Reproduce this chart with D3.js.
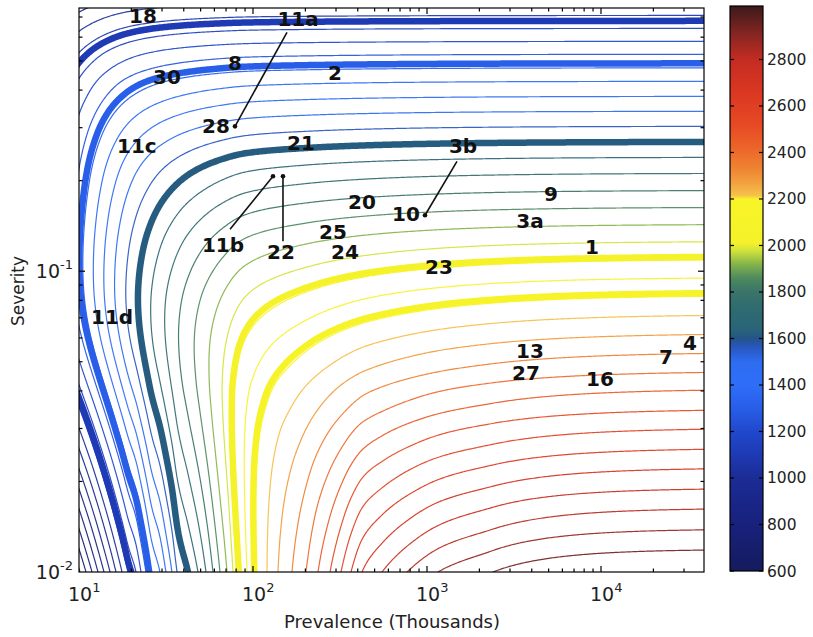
<!DOCTYPE html>
<html>
<head>
<meta charset="utf-8">
<script src="https://cdn.jsdelivr.net/npm/d3@7/dist/d3.min.js"></script>
<style>
  html, body { margin: 0; padding: 0; background: #ffffff; }
  svg text { font-family: "DejaVu Sans", Verdana, sans-serif; }
</style>
</head>
<body>
<svg id="chart" width="813" height="637"></svg>
<script>
// ---------------- data ----------------
// thin contour levels
const contourLevels = [600, 660, 720, 780, 840, 900, 960, 1020, 1080, 1140,
  1200, 1260, 1320, 1380, 1440, 1500, 1560, 1620, 1680, 1740,
  1800, 1860, 1920, 1980, 2040, 2100, 2160, 2220, 2280, 2340,
  2400, 2460, 2520, 2580, 2640, 2700, 2760, 2820, 2880, 2940];
// highlighted (thick) levels
const highlightLevels = [1105, 1300, 1620, 2030, 2150];

// prevalence (thousands) where each thin level meets severity = 0.01
const bottomEdgePrevalence = [10.13, 10.97, 11.88, 12.86, 13.92, 15.08, 16.32, 17.67, 19.12, 21.27,
  22.72, 24.27, 25.94, 29.2, 31.6, 34.2, 36.6, 42.3, 48.3, 53.7,
  58.9, 64.6, 70.9, 76.8, 84.2, 92.4, 104.0, 120.4, 139.2, 167.5,
  201.7, 236.4, 277.1, 320.4, 365.8, 423.0, 551.3, 767.6, 1157, 2394];

// severity reached by each level at very high prevalence
const edgeLevels = [1080, 1140, 1200, 1260, 1320, 1380, 1440, 1500, 1560, 1620,
  1680, 1740, 1800, 1860, 1920, 1980, 2040, 2100, 2160, 2220,
  2280, 2340, 2400, 2460, 2520, 2580, 2640, 2700, 2760, 2820, 2880, 2940];
const rightEdgeSeverity = [0.7085, 0.6415, 0.5810, 0.5262, 0.4744, 0.4279, 0.3814, 0.3403, 0.3033, 0.2693,
  0.2393, 0.2117, 0.1858, 0.1633, 0.1433, 0.1258, 0.1096, 0.0955, 0.0832, 0.0719,
  0.0622, 0.0538, 0.0465, 0.0406, 0.0348, 0.0301, 0.0258, 0.0222, 0.0190, 0.0163, 0.0139, 0.0119];

// level reached on the low-prevalence side at mid severity (S >= 0.07)
const midLegLevels = [1335, 1690, 2110, 2220, 2400, 2730, 3550];
const midLegPrevalence = [10, 21.5, 66.1, 89.1, 199.5, 1000, 50100];

// colour map
const colorValues = [600, 800, 1000, 1100, 1200, 1300, 1400, 1500, 1560, 1600,
  1640, 1720, 1800, 1860, 1920, 1980, 2015, 2200, 2215, 2270,
  2330, 2420, 2520, 2650, 2800, 2900, 3030];
const colorStops = ['#151b5e', '#18217c', '#1b2c95', '#1e3ab4', '#2048cc', '#285ee8', '#2f6ef8', '#2e6cf0', '#2858c0', '#24548a',
  '#2a6478', '#2e6a72', '#3a7468', '#4e8a5e', '#84b44a', '#d4e43a', '#f6f22a', '#f8f428', '#f6c24a', '#f2a040',
  '#ef8432', '#ec642a', '#e64a24', '#dc3822', '#c42c22', '#8a2622', '#3c1a1a'];
const colorbarTicks = [600, 800, 1000, 1200, 1400, 1600, 1800, 2000, 2200, 2400, 2600, 2800];

// disease labels
const diseaseLabels = ['18', '11a', '8', '30', '2', '28', '11c', '21', '3b', '9',
  '20', '10', '3a', '25', '11b', '22', '24', '1', '23', '11d',
  '13', '27', '7', '4', '16'];
const labelPrevalence = [23.3, 181.5, 78.8, 32.0, 295.8, 61.2, 21.5, 188.8, 1611, 5160,
  423, 757, 3908, 288.3, 67.2, 144.9, 337.9, 8873, 1172, 15.5,
  3908, 3707, 23640, 32480, 9860];
const labelSeverity = [0.703, 0.692, 0.491, 0.441, 0.4548, 0.3031, 0.2603, 0.2662, 0.2603, 0.1803,
  0.1695, 0.1546, 0.1466, 0.1348, 0.1220, 0.1156, 0.1156, 0.1201, 0.1031, 0.0703,
  0.0542, 0.0458, 0.0518, 0.0577, 0.0438];

// callouts: label end -> marked point
const calloutFromPrevalence = [156.8, 73.8, 148.7, 1487];
const calloutFromSeverity = [0.6223, 0.1379, 0.1258, 0.2319];
const calloutToPrevalence = [78.8, 130.3, 148.7, 973.9];
const calloutToSeverity = [0.3031, 0.2068, 0.2068, 0.1535];

const xDecades = [10, 100, 1000, 10000];
const xExponents = ['1', '2', '3', '4'];
const yDecades = [0.01, 0.1];
const yExponents = ['-2', '-1'];

// ---------------- layout ----------------
const plot = { left: 79, right: 704, top: 8, bottom: 572 };
const bar = { left: 730, right: 763, top: 6, bottom: 571 };
const prevalenceDomain = [10, 39080];
const severityDomain = [0.01, 0.75];

const svg = d3.select('#chart');
const x = d3.scaleLog().domain(prevalenceDomain).range([plot.left, plot.right]);
const y = d3.scaleLog().domain(severityDomain).range([plot.bottom, plot.top]);
const color = d3.scaleLinear().domain(colorValues).range(colorStops).interpolate(d3.interpolateRgb).clamp(true);

// ---------------- level field ----------------
// monotone cubic (Fritsch-Carlson) through knots, linear beyond the ends
function monotone(xs, ys) {
  const n = xs.length, d = [], m = new Array(n);
  for (let i = 0; i < n - 1; i++) d.push((ys[i + 1] - ys[i]) / (xs[i + 1] - xs[i]));
  m[0] = d[0]; m[n - 1] = d[n - 2];
  for (let i = 1; i < n - 1; i++) m[i] = d[i - 1] * d[i] <= 0 ? 0 : (d[i - 1] + d[i]) / 2;
  for (let i = 0; i < n - 1; i++) {
    if (d[i] === 0) { m[i] = m[i + 1] = 0; continue; }
    const a = m[i] / d[i], b = m[i + 1] / d[i], s = a * a + b * b;
    if (s > 9) { const k = 3 / Math.sqrt(s); m[i] = k * a * d[i]; m[i + 1] = k * b * d[i]; }
  }
  const f = function (t) {
    if (t <= xs[0]) return ys[0] + m[0] * (t - xs[0]);
    if (t >= xs[n - 1]) return ys[n - 1] + m[n - 1] * (t - xs[n - 1]);
    const i = Math.min(n - 2, d3.bisectRight(xs, t) - 1);
    const h = xs[i + 1] - xs[i], q = (t - xs[i]) / h, q2 = q * q, q3 = q2 * q;
    return (2 * q3 - 3 * q2 + 1) * ys[i] + (q3 - 2 * q2 + q) * h * m[i]
      + (-2 * q3 + 3 * q2) * ys[i + 1] + (q3 - q2) * h * m[i + 1];
  };
  f.endSlope = m[n - 1];
  f.endX = xs[n - 1];
  f.endY = ys[n - 1];
  return f;
}

// level along the high-prevalence side, as a function of log severity
const rightKnots = edgeLevels.map((L, i) => [Math.log10(rightEdgeSeverity[i]), L]).sort((a, b) => a[0] - b[0]);
const highSide = monotone(rightKnots.map(d => d[0]), rightKnots.map(d => d[1]));
// level along the severity = 0.01 edge, as a function of log prevalence
const bottomSpline = monotone(bottomEdgePrevalence.map(p => Math.log10(p)), contourLevels);
// level along the low-prevalence side at mid severity
const midSide = monotone(midLegPrevalence.map(p => Math.log10(p)), midLegLevels);

const SOFT = 700;          // corner softness, level units
const SLANT_TOP = -1.18;   // log severity where the low-prevalence legs turn vertical
const BEND = 0.12;         // rounding of that turn
const floorLevel = highSide(-2);
// beyond the last crossing the bottom edge creeps up towards the floor level
const creep = (floorLevel - bottomSpline.endY) * Math.LN10 / bottomSpline.endSlope;
function bottomSide(u) {
  if (u <= bottomSpline.endX) return bottomSpline(u);
  return floorLevel - (floorLevel - bottomSpline.endY) * Math.pow(10, -(u - bottomSpline.endX) / creep);
}

function softMin(a, b) {
  const m = Math.min(a, b);
  return m - SOFT * Math.log10(Math.pow(10, -(a - m) / SOFT) + Math.pow(10, -(b - m) / SOFT));
}
function softPlus(z) {
  return z > 20 * BEND ? z : BEND * Math.log(1 + Math.exp(z / BEND));
}
function bottomLeg(u) {
  const zb = Math.min(bottomSide(u), floorLevel - 1e-6);
  return -SOFT * Math.log10(Math.pow(10, -zb / SOFT) - Math.pow(10, -floorLevel / SOFT));
}
function lowSide(u, v) {
  const lin = (v + 2) / (SLANT_TOP + 2);
  const t = Math.max(0, lin - softPlus(lin - 1));
  return (1 - t) * bottomLeg(u) + t * midSide(u);
}
function level(u, v) {
  return softMin(highSide(v), lowSide(u, v));
}

const nx = 420, ny = 360;
const uMin = Math.log10(prevalenceDomain[0]) - 0.03, uMax = Math.log10(prevalenceDomain[1]) + 0.03;
const vMin = Math.log10(severityDomain[0]) - 0.03, vMax = Math.log10(severityDomain[1]) + 0.03;
const du = (uMax - uMin) / (nx - 1), dv = (vMax - vMin) / (ny - 1);
const grid = new Float64Array(nx * ny);
for (let j = 0; j < ny; j++) {
  const v = vMin + j * dv;
  for (let i = 0; i < nx; i++) grid[j * nx + i] = level(uMin + i * du, v);
}

const toScreen = d3.geoTransform({
  point: function (gx, gy) {
    this.stream.point(x(Math.pow(10, uMin + (gx - 0.5) * du)), y(Math.pow(10, vMin + (gy - 0.5) * dv)));
  }
});
const path = d3.geoPath(toScreen);

svg.append('defs').append('clipPath').attr('id', 'plot-clip')
  .append('rect').attr('x', plot.left).attr('y', plot.top)
  .attr('width', plot.right - plot.left).attr('height', plot.bottom - plot.top);

const lines = svg.append('g').attr('clip-path', 'url(#plot-clip)').attr('fill', 'none');
lines.selectAll('path.thin')
  .data(d3.contours().size([nx, ny]).thresholds(contourLevels)(grid))
  .join('path').attr('class', 'thin')
  .attr('d', path).attr('stroke', d => color(d.value)).attr('stroke-width', 1.2).attr('stroke-opacity', 0.92);
lines.selectAll('path.thick')
  .data(d3.contours().size([nx, ny]).thresholds(highlightLevels)(grid))
  .join('path').attr('class', 'thick')
  .attr('d', path).attr('stroke', d => color(d.value)).attr('stroke-width', 6.5);

// ---------------- axes box & ticks ----------------
const axis = svg.append('g').attr('stroke', '#000').attr('fill', 'none');
axis.append('rect').attr('x', plot.left).attr('y', plot.top)
  .attr('width', plot.right - plot.left).attr('height', plot.bottom - plot.top).attr('stroke-width', 1.2);

const xMinor = x.ticks().filter(t => t > prevalenceDomain[0] && t < prevalenceDomain[1]);
xMinor.forEach(t => {
  const major = xDecades.includes(t);
  const len = major ? 6 : 3.5;
  axis.append('line').attr('x1', x(t)).attr('x2', x(t)).attr('y1', plot.bottom).attr('y2', plot.bottom - len).attr('stroke-width', 1.2);
  axis.append('line').attr('x1', x(t)).attr('x2', x(t)).attr('y1', plot.top).attr('y2', plot.top + len).attr('stroke-width', 1.2);
});
const yMinor = y.ticks().filter(t => t > severityDomain[0] && t < severityDomain[1]);
yMinor.forEach(t => {
  const major = yDecades.some(d => Math.abs(d - t) < 1e-9);
  const len = major ? 6 : 3.5;
  axis.append('line').attr('y1', y(t)).attr('y2', y(t)).attr('x1', plot.left).attr('x2', plot.left + len).attr('stroke-width', 1.2);
  axis.append('line').attr('y1', y(t)).attr('y2', y(t)).attr('x1', plot.right).attr('x2', plot.right - len).attr('stroke-width', 1.2);
});

const tickFont = '"Liberation Sans", Arial, sans-serif';
xDecades.forEach((t, i) => {
  const lab = svg.append('text').attr('x', x(t) - 11).attr('y', 601)
    .attr('font-family', tickFont).attr('font-size', 19).attr('fill', '#222');
  lab.append('tspan').text('10');
  lab.append('tspan').attr('dy', -9).attr('font-size', 13).text(xExponents[i]);
});
yDecades.forEach((t, i) => {
  const lab = svg.append('text').attr('x', 73).attr('y', y(t) + 7)
    .attr('text-anchor', 'end').attr('font-family', tickFont).attr('font-size', 19).attr('fill', '#222');
  lab.append('tspan').text('10');
  lab.append('tspan').attr('dy', -9).attr('font-size', 13).text(yExponents[i]);
});

svg.append('text').attr('x', 392).attr('y', 628).attr('text-anchor', 'middle')
  .attr('font-size', 18).attr('fill', '#222').text('Prevalence (Thousands)');
svg.append('text').attr('transform', 'translate(24,291) rotate(-90)').attr('text-anchor', 'middle')
  .attr('font-size', 17).attr('fill', '#222').text('Severity');

// ---------------- callouts & labels ----------------
const callouts = svg.append('g');
calloutToPrevalence.forEach((p, i) => {
  callouts.append('line')
    .attr('x1', x(calloutFromPrevalence[i])).attr('y1', y(calloutFromSeverity[i]))
    .attr('x2', x(p)).attr('y2', y(calloutToSeverity[i]))
    .attr('stroke', '#111').attr('stroke-width', 1.6);
  callouts.append('circle').attr('cx', x(p)).attr('cy', y(calloutToSeverity[i])).attr('r', 2.3).attr('fill', '#111');
});
svg.append('g').selectAll('text').data(diseaseLabels).join('text')
  .attr('x', (d, i) => x(labelPrevalence[i])).attr('y', (d, i) => y(labelSeverity[i]) + 7)
  .attr('text-anchor', 'middle').attr('font-weight', 'bold').attr('font-size', 20).attr('fill', '#111')
  .text(d => d);

// ---------------- colour bar ----------------
const cb = d3.scaleLinear().domain([600, 3030]).range([bar.bottom, bar.top]);
const grad = svg.select('defs').append('linearGradient').attr('id', 'cbar')
  .attr('x1', 0).attr('y1', 1).attr('x2', 0).attr('y2', 0);
grad.selectAll('stop').data(colorValues).join('stop')
  .attr('offset', d => (d - 600) / (3030 - 600)).attr('stop-color', (d, i) => colorStops[i]);
svg.append('rect').attr('x', bar.left).attr('y', bar.top).attr('width', bar.right - bar.left)
  .attr('height', bar.bottom - bar.top).attr('fill', 'url(#cbar)').attr('stroke', '#000').attr('stroke-width', 1.2);
const cbTicks = svg.append('g').attr('stroke', '#000').attr('stroke-width', 1.2);
colorbarTicks.forEach(t => {
  cbTicks.append('line').attr('x1', bar.left).attr('x2', bar.left + 4).attr('y1', cb(t)).attr('y2', cb(t));
  cbTicks.append('line').attr('x1', bar.right).attr('x2', bar.right - 4).attr('y1', cb(t)).attr('y2', cb(t));
});
svg.append('g').selectAll('text').data(colorbarTicks).join('text')
  .attr('x', 767).attr('y', d => cb(d) + 5.5).attr('font-family', tickFont).attr('font-size', 15.5)
  .attr('fill', '#222').text(d => d);
</script>
</body>
</html>
